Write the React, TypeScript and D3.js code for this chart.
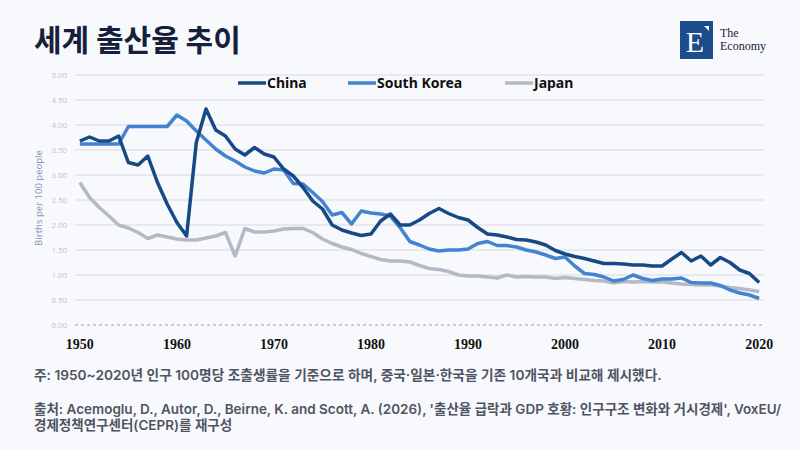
import React, { useRef, useEffect } from 'react'
import * as d3 from 'd3'

// years 1950..2020, one value per year
const years: number[] = d3.range(1950, 2021)

const china: number[] = [
  3.68, 3.76, 3.68, 3.68, 3.78, 3.25, 3.2, 3.38, 2.85, 2.42,
  2.05, 1.78, 3.65, 4.32, 3.9, 3.78, 3.52, 3.4, 3.55, 3.42,
  3.36, 3.12, 2.98, 2.75, 2.48, 2.32, 2.0, 1.9, 1.84, 1.79,
  1.82, 2.08, 2.22, 2.0, 2.0, 2.1, 2.23, 2.33, 2.23, 2.15,
  2.1, 1.95, 1.82, 1.8, 1.76, 1.71, 1.7, 1.66, 1.6, 1.49,
  1.42, 1.37, 1.33, 1.28, 1.23, 1.23, 1.22, 1.2, 1.2, 1.18,
  1.18, 1.32, 1.45, 1.28, 1.38, 1.2, 1.35, 1.25, 1.1, 1.03,
  0.85,
]

const southKorea: number[] = [
  3.62, 3.62, 3.62, 3.62, 3.62, 3.97, 3.97, 3.97, 3.97, 3.97,
  4.2, 4.08, 3.88, 3.7, 3.52, 3.38, 3.28, 3.16, 3.08, 3.04,
  3.12, 3.1, 2.83, 2.82, 2.65, 2.47, 2.2, 2.25, 2.02, 2.28,
  2.24, 2.22, 2.18, 1.95, 1.67, 1.6, 1.52, 1.48, 1.5, 1.5,
  1.52, 1.63, 1.67, 1.59, 1.59, 1.56, 1.5, 1.46, 1.4, 1.33,
  1.36, 1.18, 1.03, 1.01, 0.96, 0.88, 0.91, 1.0, 0.93, 0.89,
  0.92, 0.92, 0.94, 0.85, 0.84, 0.84, 0.79, 0.7, 0.64, 0.6,
  0.53,
]

const japan: number[] = [
  2.85, 2.55, 2.35, 2.18, 2.0, 1.94, 1.85, 1.73, 1.8, 1.76,
  1.72, 1.7, 1.7, 1.74, 1.78, 1.85, 1.38, 1.93, 1.86, 1.86,
  1.88, 1.92, 1.93, 1.93, 1.85, 1.72, 1.63, 1.56, 1.51, 1.43,
  1.37, 1.31, 1.28, 1.28, 1.26, 1.19, 1.13, 1.11, 1.07, 1.0,
  0.98, 0.98, 0.96, 0.94, 1.0, 0.96, 0.97, 0.96, 0.96, 0.93,
  0.95, 0.93, 0.91, 0.89, 0.88, 0.84, 0.87, 0.86, 0.87, 0.86,
  0.86, 0.84, 0.82, 0.81, 0.8, 0.8, 0.78, 0.75, 0.73, 0.7,
  0.67,
]

const seriesNames = ['China', 'South Korea', 'Japan']
const seriesValues = [china, southKorea, japan]
const seriesColors = ['#174a85', '#4383d0', '#b5b9c6']

const yTicks = [0, 0.5, 1, 1.5, 2, 2.5, 3, 3.5, 4, 4.5, 5]
const xTickYears = [1950, 1960, 1970, 1980, 1990, 2000, 2010, 2020]

const title = '세계 출산율 추이'
const yAxisTitle = 'Births per 100 people'
const note = '주: 1950~2020년 인구 100명당 조출생률을 기준으로 하며, 중국·일본·한국을 기존 10개국과 비교해 제시했다.'
const source1 = "출처: Acemoglu, D., Autor, D., Beirne, K. and Scott, A. (2026), '출산율 급락과 GDP 호황: 인구구조 변화와 거시경제', VoxEU/"
const source2 = '경제정책연구센터(CEPR)를 재구성'

const W = 800
const H = 450
const margin = { top: 75, right: 36, bottom: 125, left: 75 }

export default function App() {
  const svgRef = useRef<SVGSVGElement>(null)

  useEffect(() => {
    document.body.style.margin = '0'
    if (!svgRef.current) return
    const svg = d3.select(svgRef.current)
    svg.selectAll('*').remove()

    const innerW = W - margin.left - margin.right
    const innerH = H - margin.top - margin.bottom

    svg.append('rect').attr('width', W).attr('height', H).attr('fill', '#f8f9fd')

    // title
    svg.append('text')
      .attr('x', 34)
      .attr('y', 51)
      .style('font-family', '"Noto Sans CJK KR", sans-serif')
      .style('font-weight', 700)
      .style('font-size', '30px')
      .style('fill', '#17203a')
      .text(title)

    // logo
    const logo = svg.append('g').attr('transform', 'translate(680, 21)')
    logo.append('rect').attr('width', 33).attr('height', 38).attr('fill', '#1b4c8c')
    logo.append('path').attr('d', 'M24,5 L29,5 L29,10 Z').attr('fill', '#ffffff')
    logo.append('text')
      .attr('x', 15).attr('y', 31)
      .attr('text-anchor', 'middle')
      .style('font-family', '"Liberation Serif", serif')
      .style('font-size', '30px')
      .style('fill', '#ffffff')
      .text('E')
    logo.append('text')
      .attr('x', 40).attr('y', 16)
      .style('font-family', '"Liberation Serif", serif')
      .style('font-size', '12px')
      .style('fill', '#17203a')
      .text('The')
    logo.append('text')
      .attr('x', 40).attr('y', 29)
      .style('font-family', '"Liberation Serif", serif')
      .style('font-size', '12px')
      .style('fill', '#17203a')
      .text('Economy')

    const g = svg.append('g').attr('transform', `translate(${margin.left}, ${margin.top})`)

    const x = d3.scalePoint<number>().domain(years).range([0, innerW]).padding(0.5)
    const y = d3.scaleLinear().domain([0, 5]).range([innerH, 0])

    // grid lines
    g.append('g')
      .selectAll('line')
      .data(yTicks.filter(t => t > 0))
      .enter()
      .append('line')
      .attr('x1', 0)
      .attr('x2', innerW)
      .attr('y1', d => y(d))
      .attr('y2', d => y(d))
      .attr('stroke', '#d6d9e2')
      .attr('stroke-width', 1)

    // zero line dashed
    g.append('line')
      .attr('x1', 0)
      .attr('x2', innerW)
      .attr('y1', y(0))
      .attr('y2', y(0))
      .attr('stroke', '#9a9ea8')
      .attr('stroke-width', 1)
      .attr('stroke-dasharray', '3,3')

    // y tick labels
    g.append('g')
      .selectAll('text')
      .data(yTicks)
      .enter()
      .append('text')
      .attr('x', -8)
      .attr('y', d => y(d))
      .attr('dy', '0.35em')
      .attr('text-anchor', 'end')
      .style('font-family', 'Roboto, sans-serif')
      .style('font-size', '8px')
      .style('fill', '#c5c9d4')
      .text(d => d3.format('.2f')(d))

    // y axis title
    g.append('text')
      .attr('transform', `translate(-36, ${innerH / 2 - 2}) rotate(-90)`)
      .attr('text-anchor', 'middle')
      .attr('dy', '0.35em')
      .style('font-family', '"Noto Sans", sans-serif')
      .style('font-size', '9.5px')
      .style('fill', '#9099b6')
      .text(yAxisTitle)

    // x tick labels
    g.append('g')
      .selectAll('text')
      .data(xTickYears)
      .enter()
      .append('text')
      .attr('x', d => x(d) as number)
      .attr('y', innerH + 24)
      .attr('text-anchor', 'middle')
      .style('font-family', '"Liberation Serif", serif')
      .style('font-weight', 700)
      .style('font-size', '14px')
      .style('fill', '#111111')
      .text(d => d)

    // lines
    const line = d3.line<number>()
      .x((_, i) => x(years[i]) as number)
      .y(d => y(d))

    ;[2, 1, 0].forEach(k => {
      g.append('path')
        .datum(seriesValues[k])
        .attr('fill', 'none')
        .attr('stroke', seriesColors[k])
        .attr('stroke-width', 3.5)
        .attr('stroke-linejoin', 'round')
        .attr('d', line)
    })

    // legend
    const legendX = [238, 348, 505]
    seriesNames.forEach((name, i) => {
      const lg = svg.append('g').attr('transform', `translate(${legendX[i]}, 83)`)
      lg.append('line')
        .attr('x1', 0).attr('x2', 28)
        .attr('y1', 0).attr('y2', 0)
        .attr('stroke', seriesColors[i])
        .attr('stroke-width', 3.5)
      lg.append('text')
        .attr('x', 29)
        .attr('y', 0)
        .attr('dy', '0.36em')
        .style('font-family', '"Noto Sans", sans-serif')
        .style('font-weight', 700)
        .style('font-size', '14px')
        .style('fill', '#111111')
        .text(name)
    })

    // footnotes
    const foot = (txt: string, yy: number, size: number) =>
      svg.append('text')
        .attr('x', 34)
        .attr('y', yy)
        .style('font-family', 'Inter, "Noto Sans CJK KR", sans-serif')
        .style('font-weight', 600)
        .style('font-size', `${size}px`)
        .style('fill', '#4f5464')
        .text(txt)
    foot(note, 380, 13.7)
    foot(source1, 414, 13.5)
    foot(source2, 430, 13.5)
  }, [])

  return (
    <div style={{ width: W, height: H }}>
      <svg ref={svgRef} width={W} height={H} style={{ display: 'block' }} />
    </div>
  )
}
